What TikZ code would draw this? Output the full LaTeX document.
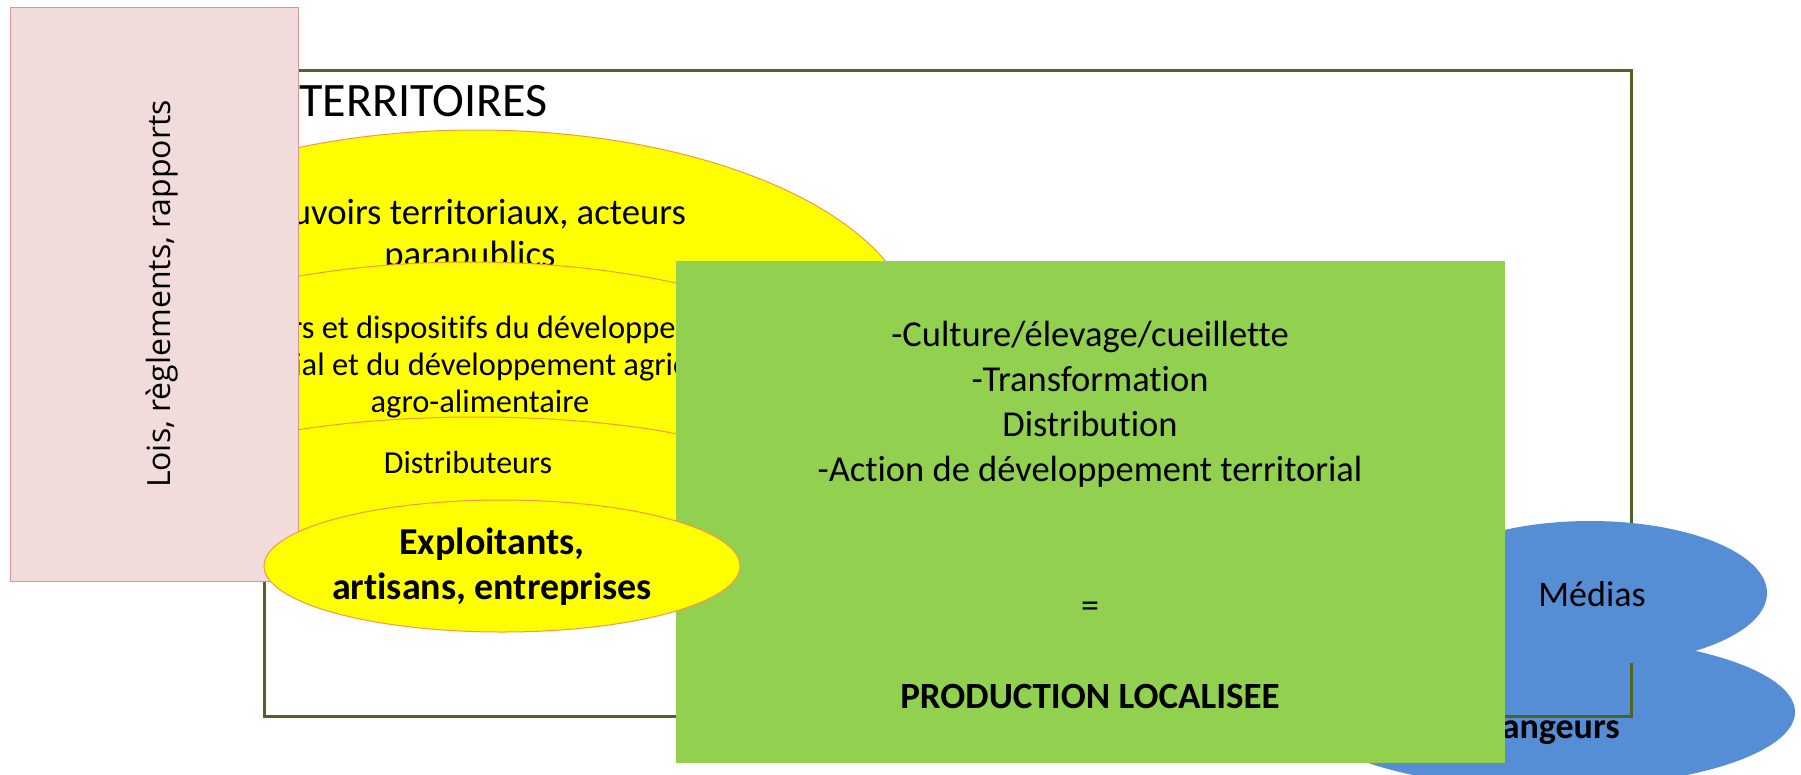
\documentclass[tikz,border=0pt]{standalone}
\usepackage{fontspec}
\setmainfont{Carlito}[Ligatures=NoCommon]
\newfontfamily\pinkfont{Open Sans}
\usetikzlibrary{shapes.geometric}
\definecolor{yel}{HTML}{FFFF00}
\definecolor{yelline}{HTML}{F79646}
\definecolor{grn}{HTML}{92D050}
\definecolor{pinkfill}{HTML}{F2DCDB}
\definecolor{pinkline}{HTML}{D99694}
\definecolor{framecol}{HTML}{4F6228}
\definecolor{blu}{HTML}{558ED5}
\begin{document}
\begin{tikzpicture}[x=1pt,y=-1pt,
  yell/.style={ellipse, draw=yelline, line width=1pt, fill=yel, inner sep=0pt, outer sep=0pt},
  bluell/.style={ellipse, fill=blu, draw=none, inner sep=0pt, outer sep=0pt},
  box/.style={rectangle, inner sep=0pt, outer sep=0pt},
  txt/.style={inner sep=0pt, align=center, text=black},
]
\useasboundingbox[fill=white] (0,0) rectangle (1801,774);
% consumers ellipse
\node[bluell, minimum width=490pt, minimum height=152pt] (mang) at (1550,712) {};
\node[txt, font=\fontsize{36}{44}\selectfont\bfseries] (mangt) at (1545,730) {Mangeurs};
% territory frame
\node[box, draw=framecol, line width=3pt, minimum width=1367pt, minimum height=646pt] (terr) at (947.5,393) {};
\node[txt, anchor=base west, font=\fontsize{48}{56}\selectfont] (terrt) at (299,116) {TERRITOIRES};
% media ellipse
\node[bluell, minimum width=354pt, minimum height=144pt] (med) at (1590,593) {};
\node[txt, font=\fontsize{36}{44}\selectfont] (medt) at (1592,594) {Médias};
% nested yellow ellipses
\node[yell, minimum width=880pt, minimum height=414pt] (e1) at (476,337) {};
\node[txt, font=\fontsize{36.7}{42}\selectfont] (e1t) at (470,236) {Pouvoirs territoriaux, acteurs\\parapublics};
\node[yell, minimum width=840pt, minimum height=328pt] (e2) at (470,426) {};
\node[txt, font=\fontsize{32.5}{37}\selectfont] (e2t) at (480,367) {Acteurs et dispositifs du développement\\territorial et du développement agricole et\\agro-alimentaire};
\node[yell, minimum width=636pt, minimum height=150pt] (e3) at (476,492) {};
\node[txt, font=\fontsize{32}{38}\selectfont] (e3t) at (468,462) {Distributeurs};
% production box
\node[box, fill=grn, minimum width=829pt, minimum height=502pt] (prod) at (1090.5,512) {};
\node[txt, font=\fontsize{36.5}{45}\selectfont] (prodt) at (1090,404) {-Culture/élevage/cueillette\\-Transformation\\Distribution\\-Action de développement territorial};
\node[txt, font=\fontsize{36}{40}\selectfont] (eq) at (1090,610) {=};
\node[txt, font=\fontsize{37}{44}\selectfont\bfseries] (prodl) at (1090,696) {PRODUCTION LOCALISEE};
% laws box
\node[box, fill=pinkfill, draw=pinkline, line width=1pt, minimum width=288pt, minimum height=574pt] (lois) at (154,294) {};
\node[txt, rotate=90, font=\fontsize{32}{40}\pinkfont] (loist) at (162,294) {Lois, règlements, rapports};
% producers ellipse
\node[yell, minimum width=476pt, minimum height=132pt] (e4) at (502,566) {};
\node[txt, font=\fontsize{38}{45}\selectfont\bfseries] (e4t) at (492,567) {Exploitants,\\artisans, entreprises};
\end{tikzpicture}
\end{document}
